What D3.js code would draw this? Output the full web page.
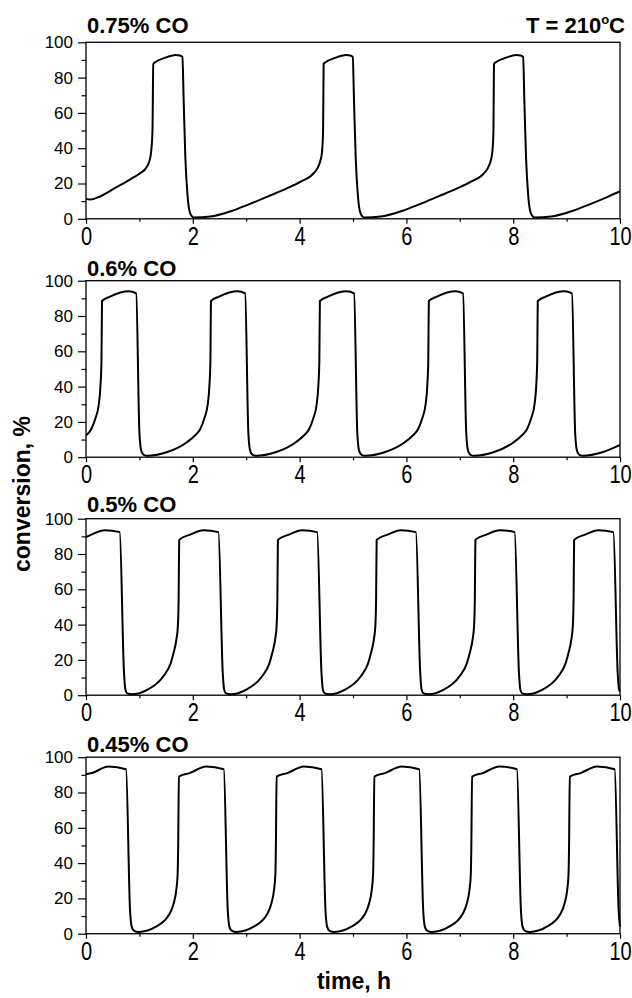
<!DOCTYPE html>
<html>
<head>
<meta charset="utf-8">
<script src="https://cdnjs.cloudflare.com/ajax/libs/d3/7.8.5/d3.min.js"></script>
<style>
body { margin: 0; background: #fff; }
text { font-family: "Liberation Sans", Arial, sans-serif; fill: #000; }
.frame { fill: none; stroke: #000; stroke-width: 1.3; }
.line { fill: none; stroke: #000; stroke-width: 2; stroke-linejoin: round; }
.tick line { stroke: #000; stroke-width: 1.2; }
</style>
</head>
<body>
<svg id="chart"></svg>
<script>
// panel titles and axis ticks
var panelNames = ['0.75% CO', '0.6% CO', '0.5% CO', '0.45% CO']
var xTicks = [0, 2, 4, 6, 8, 10]
var xMinor = [1, 3, 5, 7, 9]
var yTicks = [0, 20, 40, 60, 80, 100]
var yMinor = [10, 30, 50, 70, 90]

// conversion (%) vs time (h)
var co075 = [
    [0, 11.3], [0.08, 10.9], [0.27, 12.8], [0.58, 18.1], [0.83, 22.4], [1.0, 25.5], [1.14, 29.5], [1.19, 33], [1.22, 38], [1.245, 50], [1.26, 87.7],
    [1.31, 89], [1.46, 91], [1.68, 92.8], [1.76, 92.5], [1.805, 91.7], [1.83, 66], [1.86, 35], [1.90, 13.6], [1.95, 3.2], [2.02, 0.7], [2.33, 1.3], [2.71, 4.3], [3.05, 8.2], [3.40, 12.6], [3.76, 17.2], [4.02, 21], [4.27, 26], [4.34, 29], [4.39, 33], [4.42, 38], [4.44, 50], [4.45, 87.7],
    [4.50, 89], [4.65, 91], [4.87, 92.8], [4.95, 92.5], [4.995, 91.7], [5.02, 66], [5.05, 35], [5.09, 13.6], [5.14, 3.2], [5.21, 0.7], [5.52, 1.3], [5.90, 4.3], [6.24, 8.2], [6.59, 12.6], [6.95, 17.2], [7.21, 21], [7.46, 26], [7.53, 29], [7.58, 33], [7.61, 38], [7.63, 50], [7.64, 87.7],
    [7.69, 89], [7.84, 91], [8.06, 92.8], [8.14, 92.5], [8.185, 91.7], [8.21, 66], [8.24, 35], [8.28, 13.6], [8.33, 3.2], [8.40, 0.7], [8.71, 1.3], [9.09, 4.3], [9.43, 8.2], [9.78, 12.6], [10.0, 15.6]
]
var co06 = [
    [0, 12.3], [0.10, 16], [0.174, 21.8], [0.24, 30], [0.27, 40], [0.29, 55], [0.30, 88.5], [0.45, 91], [0.80, 94], [0.94, 92.8], [1.00, 14], [1.02, 6], [1.045, 2.8], [1.09, 1.2], [1.14, 0.8],
    [1.51, 2.8], [1.89, 8.5], [2.04, 12.3], [2.14, 16], [2.214, 21.8], [2.28, 30], [2.31, 40], [2.33, 55], [2.34, 88.5], [2.49, 91], [2.84, 94], [2.98, 92.8], [3.04, 14], [3.06, 6], [3.085, 2.8], [3.13, 1.2], [3.18, 0.8],
    [3.55, 2.8], [3.93, 8.5], [4.08, 12.3], [4.18, 16], [4.254, 21.8], [4.32, 30], [4.35, 40], [4.37, 55], [4.38, 88.5], [4.53, 91], [4.88, 94], [5.02, 92.8], [5.08, 14], [5.10, 6], [5.125, 2.8], [5.17, 1.2], [5.22, 0.8],
    [5.59, 2.8], [5.97, 8.5], [6.12, 12.3], [6.22, 16], [6.294, 21.8], [6.36, 30], [6.39, 40], [6.41, 55], [6.42, 88.5], [6.57, 91], [6.92, 94], [7.06, 92.8], [7.12, 14], [7.14, 6], [7.165, 2.8], [7.21, 1.2], [7.26, 0.8],
    [7.63, 2.8], [8.01, 8.5], [8.16, 12.3], [8.26, 16], [8.334, 21.8], [8.40, 30], [8.43, 40], [8.45, 55], [8.46, 88.5], [8.61, 91], [8.96, 94], [9.10, 92.8], [9.16, 14], [9.18, 6], [9.205, 2.8], [9.25, 1.2], [9.30, 0.8],
    [9.67, 2.8], [10.0, 7]
]
var co05 = [
    [0, 89.6], [0.101, 91], [0.351, 93.5], [0.631, 92.4], [0.712, 12.5], [0.736, 3.5], [0.766, 1.2], [0.86, 0.5],
    [1.145, 3], [1.445, 10.6], [1.585, 18], [1.64, 24], [1.695, 32], [1.72, 39], [1.735, 55], [1.745, 88], [1.95, 91], [2.20, 93.5], [2.48, 92.4], [2.561, 12.5], [2.585, 3.5], [2.615, 1.2], [2.709, 0.5],
    [2.994, 3], [3.294, 10.6], [3.434, 18], [3.489, 24], [3.544, 32], [3.569, 39], [3.584, 55], [3.594, 88], [3.799, 91], [4.049, 93.5], [4.329, 92.4], [4.41, 12.5], [4.434, 3.5], [4.464, 1.2], [4.558, 0.5],
    [4.843, 3], [5.143, 10.6], [5.283, 18], [5.338, 24], [5.393, 32], [5.418, 39], [5.433, 55], [5.443, 88], [5.648, 91], [5.898, 93.5], [6.178, 92.4], [6.259, 12.5], [6.283, 3.5], [6.313, 1.2], [6.407, 0.5],
    [6.692, 3], [6.992, 10.6], [7.132, 18], [7.187, 24], [7.242, 32], [7.267, 39], [7.282, 55], [7.292, 88], [7.497, 91], [7.747, 93.5], [8.027, 92.4], [8.108, 12.5], [8.132, 3.5], [8.162, 1.2], [8.256, 0.5],
    [8.541, 3], [8.841, 10.6], [8.981, 18], [9.036, 24], [9.091, 32], [9.116, 39], [9.131, 55], [9.141, 88], [9.346, 91], [9.596, 93.5], [9.876, 92.4], [9.957, 12.5], [9.981, 3.5], [10.0, 2]
]
var co045 = [
    [0, 90.3], [0.11, 91], [0.42, 94.7], [0.75, 93.2], [0.825, 13], [0.855, 4], [0.895, 1.8], [0.99, 1],
    [1.31, 4], [1.56, 11], [1.64, 17], [1.69, 24.6], [1.715, 33], [1.725, 47], [1.74, 89], [1.94, 91], [2.25, 94.7], [2.58, 93.2], [2.655, 13], [2.685, 4], [2.725, 1.8], [2.82, 1],
    [3.14, 4], [3.39, 11], [3.47, 17], [3.52, 24.6], [3.545, 33], [3.555, 47], [3.57, 89], [3.77, 91], [4.08, 94.7], [4.41, 93.2], [4.485, 13], [4.515, 4], [4.555, 1.8], [4.65, 1],
    [4.97, 4], [5.22, 11], [5.30, 17], [5.35, 24.6], [5.375, 33], [5.385, 47], [5.40, 89], [5.60, 91], [5.91, 94.7], [6.24, 93.2], [6.315, 13], [6.345, 4], [6.385, 1.8], [6.48, 1],
    [6.80, 4], [7.05, 11], [7.13, 17], [7.18, 24.6], [7.205, 33], [7.215, 47], [7.23, 89], [7.43, 91], [7.74, 94.7], [8.07, 93.2], [8.145, 13], [8.175, 4], [8.215, 1.8], [8.31, 1],
    [8.63, 4], [8.88, 11], [8.96, 17], [9.01, 24.6], [9.035, 33], [9.045, 47], [9.06, 89], [9.26, 91], [9.57, 94.7], [9.90, 93.2], [9.975, 13], [10.0, 4]
]
var series = [co075, co06, co05, co045]

var margin = { left: 86, right: 12 },
    width = 632 - margin.left - margin.right,
    panelH = 176.5
var panelTop = [42.3, 280.7, 518.7, 757.2]
var titleGap = [9, 5, 6.5, 5]

var svg = d3.select('#chart')
    .attr('width', 632)
    .attr('height', 998)

var x = d3.scaleLinear().domain([0, 10]).range([0, width])
var y = d3.scaleLinear().domain([0, 100]).range([panelH, 0])

var valueline = d3.line()
    .x(function (d) { return x(d[0]) })
    .y(function (d) { return y(d[1]) })
    .curve(d3.curveMonotoneX)

for (let i = 0; i < series.length; i++) {
    var g = svg.append('g')
        .attr('transform', 'translate(' + margin.left + ',' + panelTop[i] + ')')

    // minor ticks first
    g.append('g')
        .call(d3.axisLeft(y).tickValues(yMinor).tickSize(4.5).tickFormat(''))
        .call(a => a.select('.domain').remove())
    g.append('g')
        .attr('transform', 'translate(0,' + panelH + ')')
        .call(d3.axisBottom(x).tickValues(xMinor).tickSize(3).tickFormat(''))
        .call(a => a.select('.domain').remove())

    // major y ticks
    g.append('g')
        .call(d3.axisLeft(y).tickValues(yTicks).tickSize(8).tickPadding(5))
        .call(a => a.select('.domain').remove())
        .selectAll('text')
        .style('font-size', '17px')
        .style('font-family', '"Liberation Sans", Arial, sans-serif')

    // major x ticks, labels stretched a bit like the print
    g.append('g')
        .attr('transform', 'translate(0,' + panelH + ')')
        .call(d3.axisBottom(x).tickValues(xTicks).tickSize(5))
        .call(a => a.select('.domain').remove())
        .selectAll('text')
        .attr('y', 0)
        .attr('dy', 0)
        .attr('transform', 'translate(0,26) scale(1,1.25)')
        .style('font-size', '20px')
        .style('font-family', '"Liberation Sans", Arial, sans-serif')

    g.append('rect')
        .attr('class', 'frame')
        .attr('width', width)
        .attr('height', panelH)

    g.append('path')
        .data([series[i]])
        .attr('class', 'line')
        .attr('d', valueline)

    g.append('text')
        .attr('x', 1)
        .attr('y', -titleGap[i])
        .style('font-size', '22px')
        .style('font-weight', 'bold')
        .text(panelNames[i])
}

// temperature note
var tnote = svg.append('text')
    .attr('x', 625)
    .attr('y', 33)
    .attr('text-anchor', 'end')
    .style('font-size', '22px')
    .style('font-weight', 'bold')
tnote.append('tspan').text('T = 210')
tnote.append('tspan').attr('dy', -9).style('font-size', '13px').text('o')
tnote.append('tspan').attr('dy', 9).text('C')

// axis titles
svg.append('text')
    .attr('transform', 'translate(30,494) rotate(-90)')
    .attr('text-anchor', 'middle')
    .style('font-size', '23px')
    .style('font-weight', 'bold')
    .text('conversion, %')

svg.append('text')
    .attr('x', 354)
    .attr('y', 989)
    .attr('text-anchor', 'middle')
    .style('font-size', '23px')
    .style('font-weight', 'bold')
    .text('time, h')
</script>
</body>
</html>
